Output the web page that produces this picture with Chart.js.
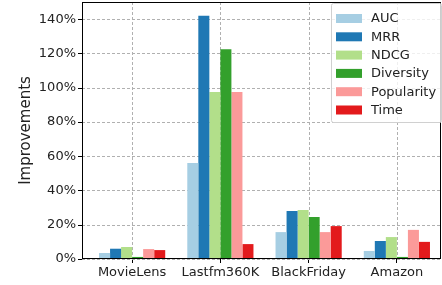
<!DOCTYPE html>
<html>
<head>
    <title>Improvements</title>
    <script src="https://cdn.jsdelivr.net/npm/chart.js"></script>
    <style>
        html, body { margin: 0; padding: 0; background: #fff; }
        #wrap { width: 442px; height: 285px; }
    </style>
    <script>
        const datasetNames = ['MovieLens', 'Lastfm360K', 'BlackFriday', 'Amazon'];
        const metricNames = ['AUC', 'MRR', 'NDCG', 'Diversity', 'Popularity', 'Time'];
        const aucValues = [3.5, 56, 15.7, 4.7];
        const mrrValues = [6, 142, 28, 10.5];
        const ndcgValues = [7, 97.4, 28.6, 12.8];
        const diversityValues = [1.2, 122.4, 24.5, 1.2];
        const popularityValues = [5.8, 97.4, 15.7, 17];
        const timeValues = [5.2, 8.7, 19.2, 10];
        const yTicks = [0, 20, 40, 60, 80, 100, 120, 140];

        const seriesValues = [aucValues, mrrValues, ndcgValues, diversityValues, popularityValues, timeValues];
        const colors = ['#a6cee3', '#1f78b4', '#b2df8a', '#33a02c', '#fb9a99', '#e31a1c'];
        const FONT = '"DejaVu Sans", sans-serif';
        const GAP = 6; // matplotlib leaves a bit of room left of the first group

        // dashed grid under the bars, frame and matplotlib style legend over them
        const framePlugin = {
            id: 'frame',
            beforeDatasetsDraw(chart) {
                const ctx = chart.ctx;
                const a = chart.chartArea;
                const left = a.left - GAP;
                ctx.save();
                ctx.strokeStyle = '#b0b0b0';
                ctx.lineWidth = 1;
                ctx.setLineDash([3, 2]);
                chart.scales.x.ticks.forEach((t, i) => {
                    const x = Math.round(chart.scales.x.getPixelForTick(i)) + 0.5;
                    ctx.beginPath(); ctx.moveTo(x, a.top); ctx.lineTo(x, a.bottom); ctx.stroke();
                });
                yTicks.forEach(v => {
                    const y = Math.round(chart.scales.y.getPixelForValue(v)) + 0.5;
                    ctx.beginPath(); ctx.moveTo(left, y); ctx.lineTo(a.right, y); ctx.stroke();
                });
                ctx.restore();
            },
            afterDatasetsDraw(chart) {
                const ctx = chart.ctx;
                const a = chart.chartArea;
                const left = a.left - GAP;
                ctx.save();
                ctx.strokeStyle = '#000';
                ctx.lineWidth = 1;
                ctx.strokeRect(left + 0.5, a.top + 0.5, a.right - left - 1, a.bottom - a.top - 1);
                yTicks.forEach(v => {
                    const y = Math.round(chart.scales.y.getPixelForValue(v)) + 0.5;
                    ctx.beginPath(); ctx.moveTo(left - 4, y); ctx.lineTo(left, y); ctx.stroke();
                });

                // legend box
                const bx = 331, by = 3, bw = 110, bh = 119;
                ctx.fillStyle = 'rgba(255,255,255,0.8)';
                ctx.strokeStyle = '#d0d0d0';
                ctx.beginPath();
                ctx.roundRect(bx + 0.5, by + 0.5, bw, bh, 2);
                ctx.fill();
                ctx.stroke();
                ctx.font = '13px ' + FONT;
                ctx.textBaseline = 'middle';
                chart.data.datasets.forEach((ds, i) => {
                    const cy = by + 15.5 + i * 18.3;
                    ctx.fillStyle = ds.backgroundColor;
                    ctx.fillRect(336, cy - 4.5, 26, 9);
                    ctx.fillStyle = '#222';
                    ctx.fillText(ds.label, 371, cy + 0.5);
                });
                ctx.restore();
            }
        };

        document.addEventListener('DOMContentLoaded', function() {
            const datasets = metricNames.map((name, i) => ({
                label: name,
                data: seriesValues[i],
                backgroundColor: colors[i],
                borderWidth: 0,
                categoryPercentage: 0.75,
                barPercentage: 1.0
            }));

            const ctx = document.getElementById('chart').getContext('2d');
            new Chart(ctx, {
                type: 'bar',
                data: { labels: datasetNames, datasets: datasets },
                plugins: [framePlugin],
                options: {
                    responsive: false,
                    animation: false,
                    layout: { padding: { top: 2, right: 1, left: 17, bottom: 0 } },
                    plugins: {
                        legend: { display: false },
                        tooltip: { enabled: false }
                    },
                    scales: {
                        x: {
                            grid: {
                                offset: false,
                                drawOnChartArea: false,
                                tickColor: '#000',
                                tickLength: 4
                            },
                            border: { display: false },
                            ticks: {
                                color: '#222',
                                font: { family: FONT, size: 13 },
                                padding: 2,
                                maxRotation: 0
                            },
                            afterFit(scale) {
                                scale.height = 26;
                                scale.paddingLeft = 0;
                                scale.paddingRight = 0;
                            }
                        },
                        y: {
                            min: 0,
                            max: 150,
                            afterBuildTicks(scale) {
                                scale.ticks = yTicks.map(v => ({ value: v }));
                            },
                            grid: {
                                drawOnChartArea: false,
                                tickColor: 'rgba(0,0,0,0)',
                                tickLength: 4 + GAP
                            },
                            border: { display: false },
                            ticks: {
                                color: '#222',
                                font: { family: FONT, size: 13 },
                                padding: 2,
                                callback: v => v + '%'
                            },
                            title: {
                                display: true,
                                text: 'Improvements',
                                color: '#222',
                                font: { family: FONT, size: 15 },
                                padding: { top: 0, bottom: 0 }
                            },
                            afterFit(scale) {
                                scale.width = 65 + GAP;
                                scale.paddingTop = 0;
                                scale.paddingBottom = 0;
                            }
                        }
                    }
                }
            });
        });
    </script>
</head>
<body>
<div id="wrap"><canvas id="chart" width="442" height="285"></canvas></div>
</body>
</html>
